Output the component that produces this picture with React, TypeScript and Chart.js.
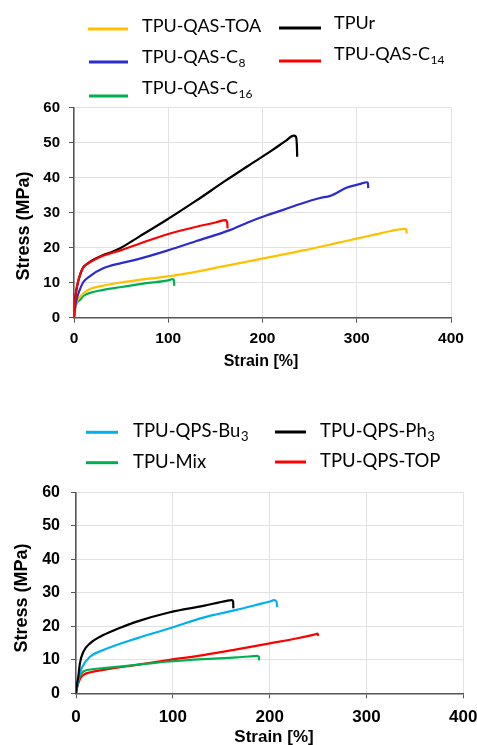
import React, { useEffect, useRef } from "react";
import { Chart, registerables } from "chart.js";
Chart.register(...registerables);

// ---------- Top panel (TPU-QAS series) ----------
const toaStrain = [0, 0.5, 1.5, 3, 6.4, 12, 17, 30, 49, 75, 102, 125, 155, 185, 218.6, 245, 275, 300, 320, 335, 350, 352.5, 353];
const toaStress = [0, 1.5, 3.2, 4.6, 6, 7.4, 8.2, 9.1, 10, 11, 11.9, 12.9, 14.5, 16.1, 17.9, 19.3, 21.1, 22.6, 23.8, 24.7, 25.4, 25.3, 24.1];

const c8Strain = [0, 0.5, 1.5, 3, 6, 10, 17, 31, 50, 66, 98, 130, 166, 185, 204, 222, 240, 261, 272, 289, 305, 310.5, 311.8, 312.2];
const c8Stress = [0, 1.5, 3.5, 5.5, 7.9, 10.2, 11.9, 14.1, 15.6, 16.6, 19.1, 21.9, 25.1, 27.3, 29.2, 30.8, 32.5, 34.2, 34.8, 37.1, 38.3, 38.7, 38.5, 37];

const c16Strain = [0, 0.5, 1.5, 3, 6.4, 10, 17, 30, 48.8, 75, 101.9, 104, 106, 106.4];
const c16Stress = [0, 1.5, 3, 4.2, 5.1, 6.2, 7.1, 7.9, 8.7, 9.8, 10.8, 11, 10.8, 9.1];

const tpurStrain = [0, 0.5, 1, 2, 3.5, 5, 9, 15, 20, 30, 40, 50, 70, 98, 130, 160, 190, 210, 225, 233, 235.5, 236.5, 236.8];
const tpurStress = [0, 2.5, 4.5, 7, 9.3, 11, 14, 15.6, 16.5, 17.8, 18.8, 20, 23.3, 27.9, 33.5, 39, 44.3, 47.8, 50.6, 52, 51.7, 49, 46];

const c14Strain = [0, 0.5, 1, 2, 3.5, 5, 9, 15, 20, 30, 40, 50, 70, 100, 130, 150, 158, 161, 162.5, 163];
const c14Stress = [0, 2.5, 4.5, 7, 9.3, 11, 14, 15.5, 16.3, 17.6, 18.5, 19.3, 21.2, 23.9, 26, 27.2, 27.8, 27.9, 27.3, 25.5];

// ---------- Bottom panel (TPU-QPS series) ----------
const bu3Strain = [0, 0.5, 1.2, 2.4, 5.9, 14.5, 28.2, 62.7, 97, 131.5, 165.9, 185, 200.3, 204.5, 207, 207.8];
const bu3Stress = [0, 1, 2.2, 4, 7.5, 10.9, 12.9, 16.4, 19.4, 22.6, 24.9, 26.3, 27.4, 27.8, 27.4, 25.7];

const ph3Strain = [0, 0.5, 1.2, 2.4, 4.1, 7.6, 14.5, 28.2, 45, 62.7, 97, 131.5, 155.6, 160.8, 162.3, 162.5];
const ph3Stress = [0, 1.5, 3, 5, 9, 12.4, 14.9, 17.4, 19.5, 21.4, 24.2, 26.1, 27.6, 27.8, 27.4, 25.4];

const mixStrain = [0, 0.5, 1.2, 2.4, 4.5, 7.6, 15, 28.2, 62.7, 97, 131.5, 165.9, 183, 187, 188.8, 189.2];
const mixStress = [0, 1, 2.3, 4, 5.5, 6.5, 7.1, 7.5, 8.5, 9.5, 10.2, 10.7, 11.1, 11.2, 10.9, 9.8];

const topStrain = [0, 0.5, 1.2, 2.4, 4.5, 7.6, 15, 28.2, 62.7, 97, 131.5, 165.9, 200.3, 230, 247, 249.5, 250.2];
const topStress = [0, 0.8, 1.8, 3, 4.5, 5.5, 6.3, 7, 8.5, 10, 11.4, 13.1, 14.9, 16.5, 17.6, 17.8, 17.1];

// ---------- Labels / axes ----------
const xTicks = [0, 100, 200, 300, 400];
const yTicks = [0, 10, 20, 30, 40, 50, 60];
const xTitle = "Strain [%]";
const yTitle = "Stress (MPa)";

// label: [main text, subscript]
const topLabels: [string, string][] = [
  ["TPU-QAS-TOA", ""],
  ["TPUr", ""],
  ["TPU-QAS-C", "8"],
  ["TPU-QAS-C", "14"],
  ["TPU-QAS-C", "16"],
];
const topColors = ["#FFC000", "#000000", "#2B2BD0", "#FF0000", "#00B050"];
const topStrains = [toaStrain, tpurStrain, c8Strain, c14Strain, c16Strain];
const topStresses = [toaStress, tpurStress, c8Stress, c14Stress, c16Stress];
const topOrder = [3, 5, 2, 1, 4];

const botLabels: [string, string][] = [
  ["TPU-QPS-Bu", "3"],
  ["TPU-QPS-Ph", "3"],
  ["TPU-Mix", ""],
  ["TPU-QPS-TOP", ""],
];
const botColors = ["#00B0F0", "#000000", "#00B050", "#FF0000"];
const botStrains = [bu3Strain, ph3Strain, mixStrain, topStrain];
const botStresses = [bu3Stress, ph3Stress, mixStress, topStress];
const botOrder = [2, 1, 3, 4];

// ---------- Layout (pixels) ----------
type Layout = {
  top: number; height: number; padTop: number; padRight: number; yW: number; xH: number;
  tickFontX: number; tickFontY: number; xTickPad: number; yTickPad: number;
  xTitle: [number, number, number]; yTitle: [number, number, number];
  legend: { x0: number; x1: number; ly: number; tx: number; ty: number }[];
  legendFont: number;
};

const topLayout: Layout = {
  top: 0, height: 372, padTop: 107.7, padRight: 26, yW: 74, xH: 54.3,
  tickFontX: 15.5, tickFontY: 15, xTickPad: 7, yTickPad: 9,
  xTitle: [261, 362, 16], yTitle: [24, 226, 18],
  legend: [
    { x0: 88, x1: 128, ly: 29, tx: 142, ty: 32 },
    { x0: 279, x1: 321, ly: 28, tx: 334, ty: 29 },
    { x0: 89, x1: 128, ly: 62, tx: 142, ty: 63 },
    { x0: 279, x1: 321, ly: 61, tx: 334, ty: 60 },
    { x0: 89, x1: 128, ly: 96, tx: 142, ty: 94 },
  ],
  legendFont: 18,
};

const botLayout: Layout = {
  top: 372, height: 373, padTop: 120.3, padRight: 13.7, yW: 76, xH: 51.7,
  tickFontX: 17, tickFontY: 16, xTickPad: 9, yTickPad: 11,
  xTitle: [274, 365, 17], yTitle: [22.5, 226, 18],
  legend: [
    { x0: 86, x1: 118, ly: 60.3, tx: 133, ty: 65.3 },
    { x0: 275, x1: 306, ly: 60, tx: 320, ty: 65 },
    { x0: 86, x1: 118, ly: 90.7, tx: 133, ty: 95.7 },
    { x0: 275, x1: 306, ly: 90, tx: 320, ty: 95 },
  ],
  legendFont: 18.5,
};

const FONT = "'Liberation Sans', Arial, sans-serif";
const LFONT = "Lato, 'Liberation Sans', sans-serif";

function makeOverlay(layout: Layout, labels: [string, string][]) {
  return {
    id: "overlay",
    afterDraw(chart: any) {
      const ctx = chart.ctx as CanvasRenderingContext2D;
      ctx.save();
      layout.legend.forEach((p, i) => {
        const ds = chart.data.datasets[i];
        ctx.strokeStyle = ds.borderColor;
        ctx.lineWidth = 3;
        ctx.beginPath();
        ctx.moveTo(p.x0, p.ly);
        ctx.lineTo(p.x1, p.ly);
        ctx.stroke();
        const [main, sub] = labels[i];
        ctx.fillStyle = "#000";
        ctx.textAlign = "left";
        ctx.textBaseline = "alphabetic";
        ctx.font = `${layout.legendFont}px ${LFONT}`;
        ctx.fillText(main, p.tx, p.ty);
        if (sub) {
          const w = ctx.measureText(main).width;
          ctx.font = `${Math.round(layout.legendFont * 0.68)}px ${LFONT}`;
          ctx.fillText(sub, p.tx + w + 0.5, p.ty + 4);
        }
      });
      // axis titles
      ctx.fillStyle = "#000";
      ctx.textAlign = "center";
      ctx.textBaseline = "middle";
      const [xx, xy, xs] = layout.xTitle;
      ctx.font = `bold ${xs}px ${FONT}`;
      ctx.fillText(xTitle, xx, xy);
      const [yx, yy, ys] = layout.yTitle;
      ctx.translate(yx, yy);
      ctx.rotate(-Math.PI / 2);
      ctx.font = `bold ${ys}px ${FONT}`;
      ctx.fillText(yTitle, 0, 0);
      ctx.restore();
    },
  };
}

function PanelChart({ layout, labels, colors, strains, stresses, order }: any) {
  const ref = useRef<HTMLCanvasElement>(null);
  useEffect(() => {
    const canvas = ref.current!;
    const datasets = labels.map((lb: [string, string], i: number) => ({
      label: lb[0] + lb[1],
      data: strains[i].map((x: number, k: number) => ({ x, y: stresses[i][k] })),
      borderColor: colors[i],
      backgroundColor: colors[i],
      borderWidth: 2.2,
      pointRadius: 0,
      fill: false,
      cubicInterpolationMode: "monotone",
      order: order[i],
    }));
    const grid = { color: "#E2E2E2", lineWidth: 1, tickColor: "#555555", tickLength: 5 };
    const chart = new Chart(canvas, {
      type: "line",
      data: { datasets },
      plugins: [makeOverlay(layout, labels)],
      options: {
        animation: false,
        responsive: false,
        devicePixelRatio: 1,
        layout: { padding: { top: layout.padTop, right: layout.padRight, left: 0, bottom: 0 } },
        plugins: { legend: { display: false }, tooltip: { enabled: false }, title: { display: false } },
        scales: {
          x: {
            type: "linear",
            min: 0,
            max: 400,
            afterBuildTicks: (s: any) => { s.ticks = xTicks.map((v) => ({ value: v })); },
            afterFit: (s: any) => { s.height = layout.xH; s.paddingLeft = 0; s.paddingRight = 0; },
            grid,
            border: { color: "#555555", width: 1.5 },
            ticks: {
              color: "#000",
              padding: layout.xTickPad,
              maxRotation: 0,
              font: { family: FONT, weight: "bold", size: layout.tickFontX },
            },
          },
          y: {
            type: "linear",
            min: 0,
            max: 60,
            afterBuildTicks: (s: any) => { s.ticks = yTicks.map((v) => ({ value: v })); },
            afterFit: (s: any) => { s.width = layout.yW; s.paddingTop = 0; s.paddingBottom = 0; },
            grid,
            border: { color: "#555555", width: 1.5 },
            ticks: {
              color: "#000",
              padding: layout.yTickPad,
              font: { family: FONT, weight: "bold", size: layout.tickFontY },
            },
          },
        },
      } as any,
    });
    return () => chart.destroy();
  }, []);
  return (
    <canvas
      ref={ref}
      width={477}
      height={layout.height}
      style={{ position: "absolute", left: 0, top: layout.top, width: 477, height: layout.height }}
    />
  );
}

export default function App() {
  return (
    <div style={{ position: "absolute", left: 0, top: 0, width: 477, height: 745, background: "#fff" }}>
      <PanelChart layout={topLayout} labels={topLabels} colors={topColors} strains={topStrains} stresses={topStresses} order={topOrder} />
      <PanelChart layout={botLayout} labels={botLabels} colors={botColors} strains={botStrains} stresses={botStresses} order={botOrder} />
    </div>
  );
}
